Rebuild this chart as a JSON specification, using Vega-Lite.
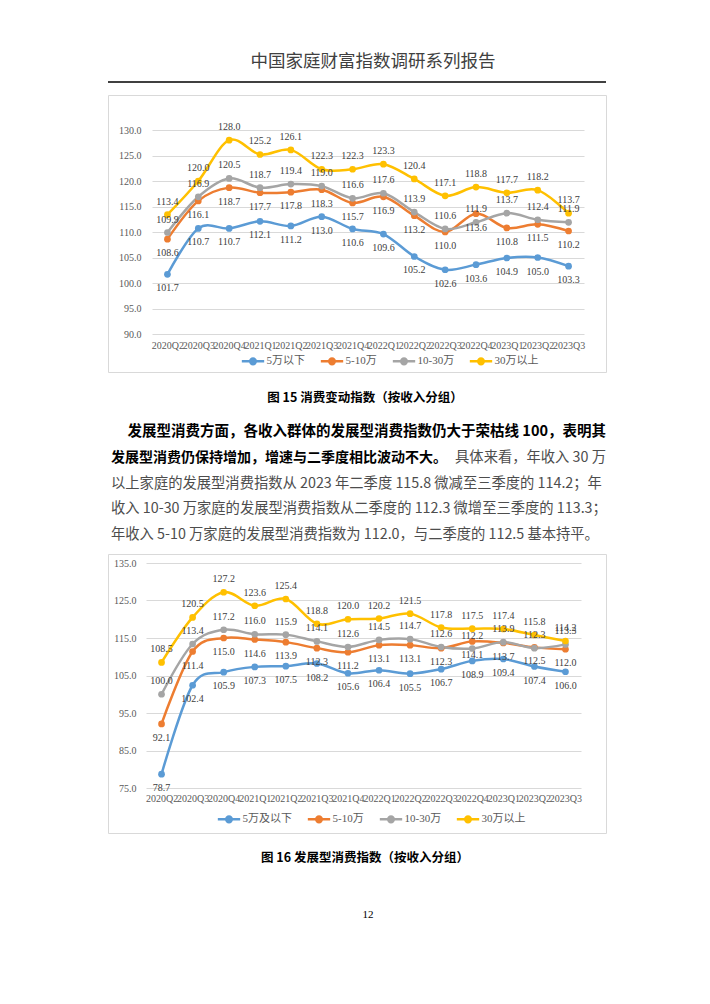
{
  "$schema": "https://vega.github.io/schema/vega-lite/v6.json",
  "background": "white",
  "padding": {"left": 107, "top": 42, "right": 0, "bottom": 0},
  "spacing": 13,
  "bounds": "flush",
  "datasets": {
    "header": [{"t": "中国家庭财富指数调研系列报告"}],
    "footer": [{"t": "12"}],
    "para": [
      {"line": 1, "lead": "发展型消费方面，各收入群体的发展型消费指数仍大于荣枯线 100，表明其", "bold": "", "plain": "", "tail": ""},
      {"line": 2, "lead": "", "bold": "发展型消费仍保持增加，增速与二季度相比波动不大。", "plain": "", "tail": "具体来看，年收入 30 万"},
      {"line": 3, "lead": "", "bold": "", "plain": "以上家庭的发展型消费指数从 2023 年二季度 115.8 微减至三季度的 114.2；年", "tail": ""},
      {"line": 4, "lead": "", "bold": "", "plain": "收入 10-30 万家庭的发展型消费指数从二季度的 112.3 微增至三季度的 113.3；", "tail": ""},
      {"line": 5, "lead": "", "bold": "", "plain": "年收入 5-10 万家庭的发展型消费指数为 112.0，与二季度的 112.5 基本持平。", "tail": ""}
    ],
    "c1": [
      {"q": "2020Q2", "g": "5万以下", "v": 101.7}, {"q": "2020Q3", "g": "5万以下", "v": 110.7}, {"q": "2020Q4", "g": "5万以下", "v": 110.7}, {"q": "2021Q1", "g": "5万以下", "v": 112.1}, {"q": "2021Q2", "g": "5万以下", "v": 111.2}, {"q": "2021Q3", "g": "5万以下", "v": 113.0}, {"q": "2021Q4", "g": "5万以下", "v": 110.6}, {"q": "2022Q1", "g": "5万以下", "v": 109.6}, {"q": "2022Q2", "g": "5万以下", "v": 105.2}, {"q": "2022Q3", "g": "5万以下", "v": 102.6}, {"q": "2022Q4", "g": "5万以下", "v": 103.6}, {"q": "2023Q1", "g": "5万以下", "v": 104.9}, {"q": "2023Q2", "g": "5万以下", "v": 105.0}, {"q": "2023Q3", "g": "5万以下", "v": 103.3},
      {"q": "2020Q2", "g": "5-10万", "v": 108.6}, {"q": "2020Q3", "g": "5-10万", "v": 116.1}, {"q": "2020Q4", "g": "5-10万", "v": 118.7}, {"q": "2021Q1", "g": "5-10万", "v": 117.7}, {"q": "2021Q2", "g": "5-10万", "v": 117.8}, {"q": "2021Q3", "g": "5-10万", "v": 118.3}, {"q": "2021Q4", "g": "5-10万", "v": 115.7}, {"q": "2022Q1", "g": "5-10万", "v": 116.9}, {"q": "2022Q2", "g": "5-10万", "v": 113.2}, {"q": "2022Q3", "g": "5-10万", "v": 110.0}, {"q": "2022Q4", "g": "5-10万", "v": 113.6}, {"q": "2023Q1", "g": "5-10万", "v": 110.8}, {"q": "2023Q2", "g": "5-10万", "v": 111.5}, {"q": "2023Q3", "g": "5-10万", "v": 110.2},
      {"q": "2020Q2", "g": "10-30万", "v": 109.9}, {"q": "2020Q3", "g": "10-30万", "v": 116.9}, {"q": "2020Q4", "g": "10-30万", "v": 120.5}, {"q": "2021Q1", "g": "10-30万", "v": 118.7}, {"q": "2021Q2", "g": "10-30万", "v": 119.4}, {"q": "2021Q3", "g": "10-30万", "v": 119.0}, {"q": "2021Q4", "g": "10-30万", "v": 116.6}, {"q": "2022Q1", "g": "10-30万", "v": 117.6}, {"q": "2022Q2", "g": "10-30万", "v": 113.9}, {"q": "2022Q3", "g": "10-30万", "v": 110.6}, {"q": "2022Q4", "g": "10-30万", "v": 111.9}, {"q": "2023Q1", "g": "10-30万", "v": 113.7}, {"q": "2023Q2", "g": "10-30万", "v": 112.4}, {"q": "2023Q3", "g": "10-30万", "v": 111.9},
      {"q": "2020Q2", "g": "30万以上", "v": 113.4}, {"q": "2020Q3", "g": "30万以上", "v": 120.0}, {"q": "2020Q4", "g": "30万以上", "v": 128.0}, {"q": "2021Q1", "g": "30万以上", "v": 125.2}, {"q": "2021Q2", "g": "30万以上", "v": 126.1}, {"q": "2021Q3", "g": "30万以上", "v": 122.3}, {"q": "2021Q4", "g": "30万以上", "v": 122.3}, {"q": "2022Q1", "g": "30万以上", "v": 123.3}, {"q": "2022Q2", "g": "30万以上", "v": 120.4}, {"q": "2022Q3", "g": "30万以上", "v": 117.1}, {"q": "2022Q4", "g": "30万以上", "v": 118.8}, {"q": "2023Q1", "g": "30万以上", "v": 117.7}, {"q": "2023Q2", "g": "30万以上", "v": 118.2}, {"q": "2023Q3", "g": "30万以上", "v": 113.7}
    ],
    "c2": [
      {"q": "2020Q2", "g": "5万及以下", "v": 78.7}, {"q": "2020Q3", "g": "5万及以下", "v": 102.4}, {"q": "2020Q4", "g": "5万及以下", "v": 105.9}, {"q": "2021Q1", "g": "5万及以下", "v": 107.3}, {"q": "2021Q2", "g": "5万及以下", "v": 107.5}, {"q": "2021Q3", "g": "5万及以下", "v": 108.2}, {"q": "2021Q4", "g": "5万及以下", "v": 105.6}, {"q": "2022Q1", "g": "5万及以下", "v": 106.4}, {"q": "2022Q2", "g": "5万及以下", "v": 105.5}, {"q": "2022Q3", "g": "5万及以下", "v": 106.7}, {"q": "2022Q4", "g": "5万及以下", "v": 108.9}, {"q": "2023Q1", "g": "5万及以下", "v": 109.4}, {"q": "2023Q2", "g": "5万及以下", "v": 107.4}, {"q": "2023Q3", "g": "5万及以下", "v": 106.0},
      {"q": "2020Q2", "g": "5-10万", "v": 92.1}, {"q": "2020Q3", "g": "5-10万", "v": 111.4}, {"q": "2020Q4", "g": "5-10万", "v": 115.0}, {"q": "2021Q1", "g": "5-10万", "v": 114.6}, {"q": "2021Q2", "g": "5-10万", "v": 113.9}, {"q": "2021Q3", "g": "5-10万", "v": 112.3}, {"q": "2021Q4", "g": "5-10万", "v": 111.2}, {"q": "2022Q1", "g": "5-10万", "v": 113.1}, {"q": "2022Q2", "g": "5-10万", "v": 113.1}, {"q": "2022Q3", "g": "5-10万", "v": 112.3}, {"q": "2022Q4", "g": "5-10万", "v": 114.1}, {"q": "2023Q1", "g": "5-10万", "v": 113.7}, {"q": "2023Q2", "g": "5-10万", "v": 112.5}, {"q": "2023Q3", "g": "5-10万", "v": 112.0},
      {"q": "2020Q2", "g": "10-30万", "v": 100.0}, {"q": "2020Q3", "g": "10-30万", "v": 113.4}, {"q": "2020Q4", "g": "10-30万", "v": 117.2}, {"q": "2021Q1", "g": "10-30万", "v": 116.0}, {"q": "2021Q2", "g": "10-30万", "v": 115.9}, {"q": "2021Q3", "g": "10-30万", "v": 114.1}, {"q": "2021Q4", "g": "10-30万", "v": 112.6}, {"q": "2022Q1", "g": "10-30万", "v": 114.5}, {"q": "2022Q2", "g": "10-30万", "v": 114.7}, {"q": "2022Q3", "g": "10-30万", "v": 112.6}, {"q": "2022Q4", "g": "10-30万", "v": 112.2}, {"q": "2023Q1", "g": "10-30万", "v": 113.9}, {"q": "2023Q2", "g": "10-30万", "v": 112.3}, {"q": "2023Q3", "g": "10-30万", "v": 113.3},
      {"q": "2020Q2", "g": "30万以上", "v": 108.5}, {"q": "2020Q3", "g": "30万以上", "v": 120.5}, {"q": "2020Q4", "g": "30万以上", "v": 127.2}, {"q": "2021Q1", "g": "30万以上", "v": 123.6}, {"q": "2021Q2", "g": "30万以上", "v": 125.4}, {"q": "2021Q3", "g": "30万以上", "v": 118.8}, {"q": "2021Q4", "g": "30万以上", "v": 120.0}, {"q": "2022Q1", "g": "30万以上", "v": 120.2}, {"q": "2022Q2", "g": "30万以上", "v": 121.5}, {"q": "2022Q3", "g": "30万以上", "v": 117.8}, {"q": "2022Q4", "g": "30万以上", "v": 117.5}, {"q": "2023Q1", "g": "30万以上", "v": 117.4}, {"q": "2023Q2", "g": "30万以上", "v": 115.8}, {"q": "2023Q3", "g": "30万以上", "v": 114.2}
    ]
  },
  "vconcat": [
    {
      "width": 498,
      "height": 40,
      "view": {"stroke": null},
      "data": {"name": "header"},
      "layer": [
        {
          "mark": {"type": "text", "font": "Noto Sans CJK SC", "fontSize": 17.5, "color": "#404040", "dx": 16},
          "encoding": {"text": {"field": "t"}}
        },
        {
          "mark": {"type": "rule", "color": "#000000", "strokeWidth": 1.3},
          "encoding": {"y": {"datum": 0, "type": "quantitative", "scale": {"domain": [0, 1]}, "axis": null}}
        }
      ]
    },
    {
      "width": 498,
      "height": 277,
      "data": {"name": "c1"},
      "title": {"text": "图 15 消费变动指数（按收入分组）", "orient": "bottom", "anchor": "middle", "offset": 20, "dx": 8, "font": "Noto Sans CJK SC", "fontSize": 12.5, "fontWeight": "bold", "color": "#000000"},
      "encoding": {
        "x": {
          "field": "q", "type": "ordinal", "sort": null,
          "scale": {"type": "point", "range": [44, 476], "padding": 0.5},
          "axis": {"orient": "bottom", "offset": -38, "labelPadding": 6, "ticks": false, "domain": false, "grid": false, "title": null, "labelAngle": 0, "labelOverlap": false, "labelBound": false, "labelFlush": false, "labelFont": "Liberation Serif", "labelFontSize": 10, "labelColor": "#595959"}
        },
        "y": {
          "field": "v", "type": "quantitative",
          "scale": {"domain": [90, 130], "range": [239, 35], "nice": false, "zero": false},
          "axis": {"offset": -44, "labelPadding": 11, "ticks": false, "domain": false, "title": null, "values": [90, 95, 100, 105, 110, 115, 120, 125, 130], "format": ".1f", "grid": true, "gridColor": "#d9d9d9", "gridWidth": 1, "labelFont": "Liberation Serif", "labelFontSize": 10, "labelColor": "#595959"}
        },
        "color": {
          "field": "g", "type": "nominal", "sort": null,
          "scale": {"domain": ["5万以下", "5-10万", "10-30万", "30万以上"], "range": ["#5B9BD5", "#ED7D31", "#A5A5A5", "#FFC000"]},
          "legend": {"orient": "none", "legendX": 132.5, "legendY": 253.5, "direction": "horizontal", "title": null, "symbolType": "M-1,0L1,0M0.25,0A0.25,0.25,0,1,1,-0.25,0A0.25,0.25,0,1,1,0.25,0M0.11,0A0.11,0.11,0,1,1,-0.11,0A0.11,0.11,0,1,1,0.11,0", "symbolSize": 500, "symbolStrokeWidth": 2.5, "symbolOpacity": 1, "labelFont": "Liberation Serif, Noto Sans CJK SC", "labelFontSize": 11, "labelColor": "#595959", "labelOffset": 1, "columnPadding": 10}
        }
      },
      "layer": [
        {"mark": {"type": "line", "interpolate": "cardinal", "strokeWidth": 2.5}},
        {"mark": {"type": "point", "filled": true, "size": 45, "opacity": 1}},
        {
          "transform": [{"filter": "datum.g === '10-30万' || datum.g === '30万以上'"}],
          "mark": {"type": "text", "dy": -13, "font": "Liberation Serif", "fontSize": 10},
          "encoding": {"text": {"field": "v", "type": "quantitative", "format": ".1f"}, "color": {"value": "#404040"}}
        },
        {
          "transform": [{"filter": "datum.g === '5万以下' || datum.g === '5-10万'"}],
          "mark": {"type": "text", "dy": 14, "font": "Liberation Serif", "fontSize": 10},
          "encoding": {"text": {"field": "v", "type": "quantitative", "format": ".1f"}, "color": {"value": "#404040"}}
        }
      ]
    },
    {
      "width": 498,
      "height": 156,
      "view": {"stroke": null},
      "data": {"name": "para"},
      "encoding": {
        "y": {"field": "line", "type": "ordinal", "sort": null, "scale": {"type": "band", "range": [34, 163], "paddingInner": 0, "paddingOuter": 0}, "axis": null}
      },
      "layer": [
        {
          "mark": {"type": "text", "align": "right", "font": "Noto Sans CJK SC", "fontWeight": "bold", "fontSize": 14.5, "color": "#000000"},
          "encoding": {"x": {"datum": 1, "type": "quantitative", "scale": {"domain": [0, 1], "range": [3, 498]}, "axis": null}, "text": {"field": "lead"}}
        },
        {
          "mark": {"type": "text", "align": "left", "font": "Noto Sans CJK SC", "fontWeight": "bold", "fontSize": 14, "color": "#000000"},
          "encoding": {"x": {"datum": 0, "type": "quantitative"}, "text": {"field": "bold"}}
        },
        {
          "mark": {"type": "text", "align": "left", "font": "Noto Sans CJK SC", "fontSize": 14.3, "color": "#4d4d4d"},
          "encoding": {"x": {"datum": 0, "type": "quantitative"}, "text": {"field": "plain"}}
        },
        {
          "mark": {"type": "text", "align": "right", "font": "Noto Sans CJK SC", "fontSize": 14.3, "color": "#4d4d4d"},
          "encoding": {"x": {"datum": 1, "type": "quantitative"}, "text": {"field": "tail"}}
        }
      ]
    },
    {
      "width": 498,
      "height": 279,
      "data": {"name": "c2"},
      "title": {"text": "图 16 发展型消费指数（按收入分组）", "orient": "bottom", "anchor": "middle", "offset": 19, "dx": 8, "font": "Noto Sans CJK SC", "fontSize": 12.5, "fontWeight": "bold", "color": "#000000"},
      "encoding": {
        "x": {
          "field": "q", "type": "ordinal", "sort": null,
          "scale": {"type": "point", "range": [38, 473], "padding": 0.5},
          "axis": {"orient": "bottom", "offset": -45, "labelPadding": 5, "ticks": false, "domain": false, "grid": false, "title": null, "labelAngle": 0, "labelOverlap": false, "labelBound": false, "labelFlush": false, "labelFont": "Liberation Serif", "labelFontSize": 10, "labelColor": "#595959"}
        },
        "y": {
          "field": "v", "type": "quantitative",
          "scale": {"domain": [75, 135], "range": [234, 9], "nice": false, "zero": false},
          "axis": {"offset": -38, "labelPadding": 10, "ticks": false, "domain": false, "title": null, "values": [75, 85, 95, 105, 115, 125, 135], "format": ".1f", "grid": true, "gridColor": "#d9d9d9", "gridWidth": 1, "labelFont": "Liberation Serif", "labelFontSize": 10, "labelColor": "#595959"}
        },
        "color": {
          "field": "g", "type": "nominal", "sort": null,
          "scale": {"domain": ["5万及以下", "5-10万", "10-30万", "30万以上"], "range": ["#5B9BD5", "#ED7D31", "#A5A5A5", "#FFC000"]},
          "legend": {"orient": "none", "legendX": 108.5, "legendY": 252.5, "direction": "horizontal", "title": null, "symbolType": "M-1,0L1,0M0.25,0A0.25,0.25,0,1,1,-0.25,0A0.25,0.25,0,1,1,0.25,0M0.11,0A0.11,0.11,0,1,1,-0.11,0A0.11,0.11,0,1,1,0.11,0", "symbolSize": 500, "symbolStrokeWidth": 2.5, "symbolOpacity": 1, "labelFont": "Liberation Serif, Noto Sans CJK SC", "labelFontSize": 11, "labelColor": "#595959", "labelOffset": 1, "columnPadding": 10}
        }
      },
      "layer": [
        {"mark": {"type": "line", "interpolate": "cardinal", "strokeWidth": 2.5}},
        {"mark": {"type": "point", "filled": true, "size": 45, "opacity": 1}},
        {
          "transform": [{"filter": "datum.g === '10-30万' || datum.g === '30万以上'"}],
          "mark": {"type": "text", "dy": -13, "font": "Liberation Serif", "fontSize": 10},
          "encoding": {"text": {"field": "v", "type": "quantitative", "format": ".1f"}, "color": {"value": "#404040"}}
        },
        {
          "transform": [{"filter": "datum.g === '5万及以下' || datum.g === '5-10万'"}],
          "mark": {"type": "text", "dy": 14, "font": "Liberation Serif", "fontSize": 10},
          "encoding": {"text": {"field": "v", "type": "quantitative", "format": ".1f"}, "color": {"value": "#404040"}}
        }
      ]
    },
    {
      "width": 498,
      "height": 138,
      "view": {"stroke": null},
      "data": {"name": "footer"},
      "mark": {"type": "text", "font": "Liberation Serif", "fontSize": 11, "color": "#000000", "dx": 11},
      "encoding": {"text": {"field": "t"}}
    }
  ],
  "resolve": {"scale": {"x": "independent", "y": "independent", "color": "independent"}},
  "config": {"view": {"stroke": "#d9d9d9"}, "font": "Liberation Serif"}
}
